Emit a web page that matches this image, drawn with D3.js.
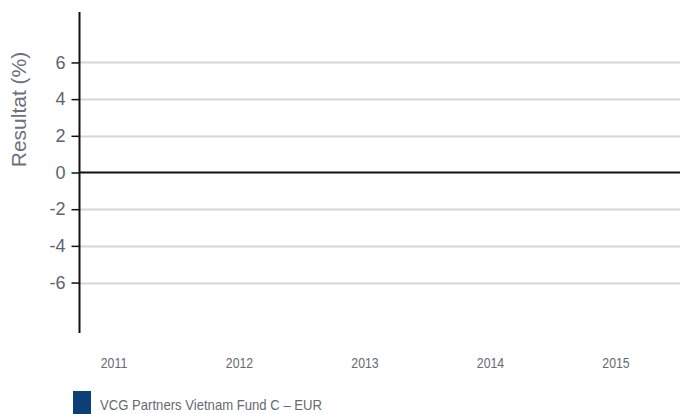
<!DOCTYPE html>
<html>
<head>
<meta charset="utf-8">
<script src="https://cdn.jsdelivr.net/npm/d3@7"></script>
<style>
  html, body { margin: 0; padding: 0; background: #fff; }
  svg { display: block; }
</style>
</head>
<body>
<svg id="chart" width="680" height="414"></svg>
<script>
const years = ["2011", "2012", "2013", "2014", "2015"];
const fundValues = [null, null, null, null, null];
const yTicks = [-6, -4, -2, 0, 2, 4, 6];
const seriesName = "VCG Partners Vietnam Fund C – EUR";
const yTitle = "Resultat (%)";

const svg = d3.select("#chart");
const W = 680, H = 414;
const axisX = 79.5;
const y = d3.scaleLinear().domain([-8.75, 8.75]).range([333, 12]);
const x = d3.scalePoint().domain(years).range([113.5, 615.5]);

// gridlines
svg.append("g").selectAll("line")
  .data(yTicks.filter(d => d !== 0))
  .join("line")
  .attr("x1", axisX).attr("x2", W)
  .attr("y1", d => Math.round(y(d)) + 0.5).attr("y2", d => Math.round(y(d)) + 0.5)
  .attr("stroke", "#d6d6d6").attr("stroke-width", 2);

// bars (no data)
const bw = 60;
svg.append("g").selectAll("rect")
  .data(years.map((yr, i) => ({yr, v: fundValues[i]})).filter(d => d.v != null))
  .join("rect")
  .attr("x", d => x(d.yr) - bw / 2)
  .attr("width", bw)
  .attr("y", d => y(Math.max(0, d.v)))
  .attr("height", d => Math.abs(y(d.v) - y(0)))
  .attr("fill", "#0c3f77");

// zero line
svg.append("line")
  .attr("x1", axisX).attr("x2", W)
  .attr("y1", Math.round(y(0)) - 0.5).attr("y2", Math.round(y(0)) - 0.5)
  .attr("stroke", "#111").attr("stroke-width", 2);

// y axis
const yAxis = d3.axisLeft(y).tickValues(yTicks).tickSize(8).tickPadding(6).tickFormat(d => String(d));
const gy = svg.append("g").attr("transform", `translate(${axisX},0)`).call(yAxis);
gy.select(".domain").remove();
gy.selectAll(".tick line").attr("stroke", "#111").attr("stroke-width", 1.5);
gy.selectAll(".tick text")
  .attr("fill", "#5a6470")
  .style("font-family", "'Liberation Sans', Arial, sans-serif")
  .style("font-size", "18px");
svg.append("line")
  .attr("x1", axisX).attr("x2", axisX)
  .attr("y1", 12).attr("y2", 333)
  .attr("stroke", "#111").attr("stroke-width", 2);

// y title
svg.append("text")
  .attr("transform", `translate(26,${(52 + 167) / 2}) rotate(-90)`)
  .attr("text-anchor", "middle")
  .attr("fill", "#6b7178")
  .style("font-family", "'Liberation Sans', Arial, sans-serif")
  .style("font-size", "21px")
  .text(yTitle);

// x axis labels
const xAxis = d3.axisBottom(x).tickSize(0).tickPadding(0);
const gx = svg.append("g").attr("transform", "translate(0,357)").call(xAxis);
gx.select(".domain").remove();
gx.selectAll(".tick text")
  .attr("fill", "#666a72")
  .attr("dy", "0.71em")
  .attr("transform", "scale(0.82,1)")
  .style("font-family", "'Liberation Sans', Arial, sans-serif")
  .style("font-size", "15px");

// legend
svg.append("rect")
  .attr("x", 73).attr("y", 391).attr("width", 18).attr("height", 23)
  .attr("fill", "#0c3f77");
svg.append("text")
  .attr("x", 100).attr("y", 410)
  .attr("fill", "#666a72")
  .attr("textLength", 222)
  .attr("lengthAdjust", "spacingAndGlyphs")
  .style("font-family", "'Liberation Sans', Arial, sans-serif")
  .style("font-size", "15px")
  .text(seriesName);
</script>
</body>
</html>
